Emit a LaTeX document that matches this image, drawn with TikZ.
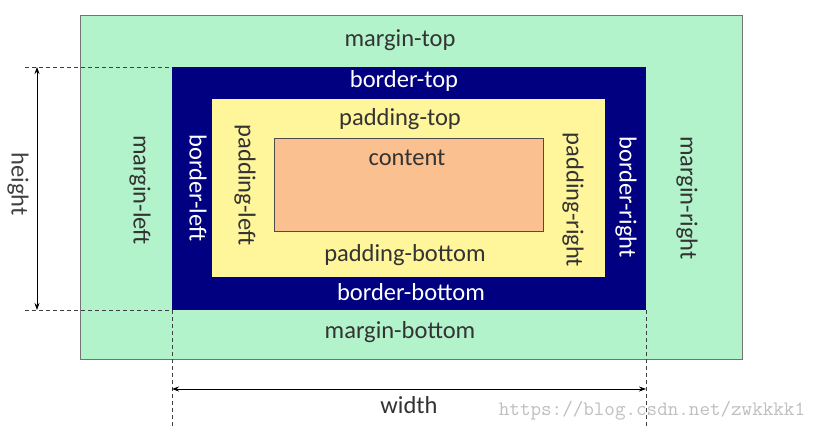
\documentclass[tikz,border=0pt]{standalone}
\usepackage{fontspec}
\setmainfont{Carlito}
\usetikzlibrary{arrows.meta}
\definecolor{marginc}{HTML}{B3F3CB}
\definecolor{borderc}{HTML}{000080}
\definecolor{paddingc}{HTML}{FFF59B}
\definecolor{contentc}{HTML}{FBC08F}
\definecolor{txtdark}{HTML}{333333}
\tikzset{
  lbl/.style={font=\fontsize{24.5}{28}\selectfont, text=txtdark, inner sep=0pt},
  wlbl/.style={lbl, text=white},
  vlbl/.style={lbl, rotate=-90},
  vwlbl/.style={wlbl, rotate=-90},
  dimline/.style={draw=black, line width=0.8pt, {Stealth[length=7pt,width=5pt]}-{Stealth[length=7pt,width=5pt]}},
  guide/.style={draw=black!75, line width=0.7pt, dash pattern=on 4pt off 3pt},
}
\begin{document}
\begin{tikzpicture}[x=1pt,y=-1pt]
\useasboundingbox (0,0) rectangle (825,439);
\fill[white] (0,0) rectangle (825,439);
% boxes
\filldraw[fill=marginc, draw=black!55, line width=1pt] (80,15) rectangle (742,359);
\fill[borderc] (172,67) rectangle (646,310);
\fill[paddingc] (212,99) rectangle (605,277);
\filldraw[fill=contentc, draw=black!70, line width=0.8pt] (274,138) rectangle (543,231);
% guide lines
\coordinate (htop) at (25,67);
\coordinate (hbot) at (25,310);
\coordinate (btl) at (172,67);
\coordinate (bbl) at (172,310);
\coordinate (bbr) at (646,310);
\coordinate (wl) at (172,427);
\coordinate (wr) at (646,427);
\draw[guide] (htop) -- (btl);
\draw[guide] (hbot) -- (bbl);
\draw[guide] (bbl) -- (wl);
\draw[guide] (bbr) -- (wr);
% dimension arrows
\coordinate (ha) at (37,67);
\coordinate (hb) at (37,310);
\coordinate (wa) at (172,389);
\coordinate (wb) at (646,389);
\draw[dimline] (ha) -- (hb);
\draw[dimline] (wa) -- (wb);
% labels
\node[lbl] (mt) at (400,40) {margin-top};
\node[wlbl] (bt) at (404,81) {border-top};
\node[lbl] (pt) at (400,119) {padding-top};
\node[lbl] (ct) at (407,158) {content};
\node[lbl] (pb) at (405,255) {padding-bottom};
\node[wlbl] (bb) at (411,292) {border-bottom};
\node[lbl] (mb) at (400,332) {margin-bottom};
\node[vlbl] (ml) at (140,190) {margin-left};
\node[vwlbl] (bl) at (198,188) {border-left};
\node[vlbl] (pl) at (245,185) {padding-left};
\node[vlbl] (pr) at (573,200) {padding-right};
\node[vwlbl] (br) at (626,197) {border-right};
\node[vlbl] (mr) at (687,198) {margin-right};
\node[vlbl, text=black!75] (hl) at (18,184) {height};
\node[lbl, text=black!80] (wlab) at (409,405) {width};
\node[inner sep=0pt, text=black!25, font=\ttfamily\fontsize{20.5}{22}\selectfont] (wm) at (652,411) {https://blog.csdn.net/zwkkkk1};
\end{tikzpicture}
\end{document}
